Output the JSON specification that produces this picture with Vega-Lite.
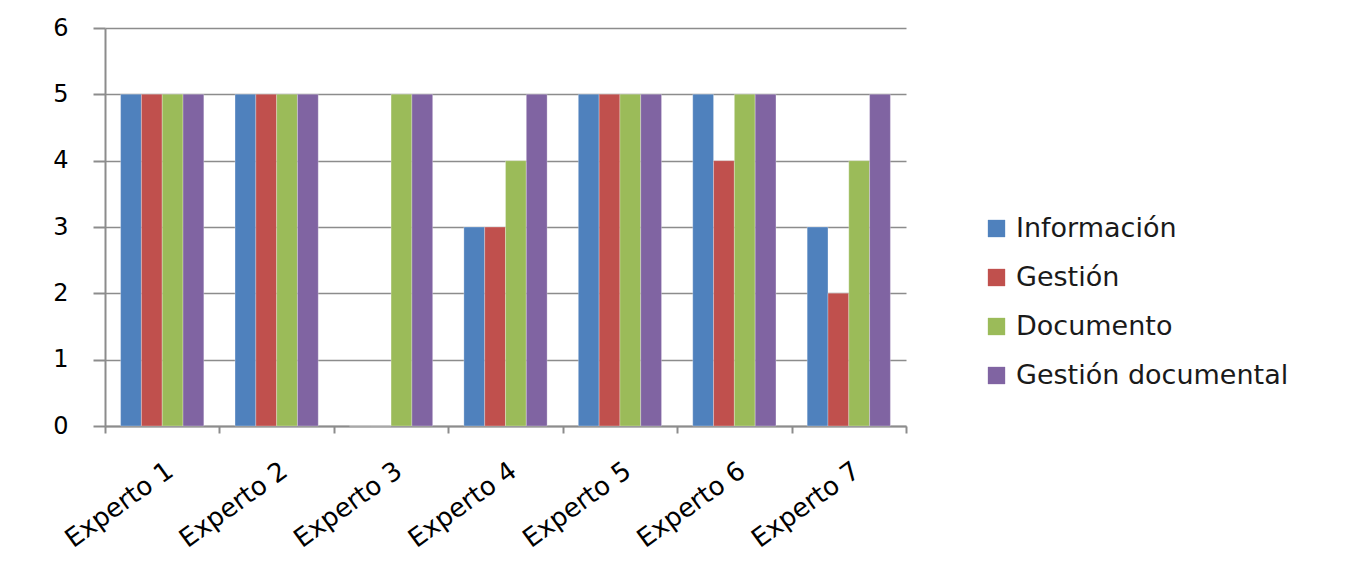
{
  "$schema": "https://vega.github.io/schema/vega-lite/v6.json",
  "autosize": "none",
  "width": 801,
  "height": 398,
  "padding": {"left": 105, "top": 28, "right": 446, "bottom": 156},
  "background": "white",
  "config": {
    "view": {"stroke": null},
    "font": "DejaVu Sans"
  },
  "data": {
    "values": [
      {"experto": "Experto 1", "serie": "Información", "valor": 5},
      {"experto": "Experto 1", "serie": "Gestión", "valor": 5},
      {"experto": "Experto 1", "serie": "Documento", "valor": 5},
      {"experto": "Experto 1", "serie": "Gestión documental", "valor": 5},
      {"experto": "Experto 2", "serie": "Información", "valor": 5},
      {"experto": "Experto 2", "serie": "Gestión", "valor": 5},
      {"experto": "Experto 2", "serie": "Documento", "valor": 5},
      {"experto": "Experto 2", "serie": "Gestión documental", "valor": 5},
      {"experto": "Experto 3", "serie": "Información", "valor": 0},
      {"experto": "Experto 3", "serie": "Gestión", "valor": 0},
      {"experto": "Experto 3", "serie": "Documento", "valor": 5},
      {"experto": "Experto 3", "serie": "Gestión documental", "valor": 5},
      {"experto": "Experto 4", "serie": "Información", "valor": 3},
      {"experto": "Experto 4", "serie": "Gestión", "valor": 3},
      {"experto": "Experto 4", "serie": "Documento", "valor": 4},
      {"experto": "Experto 4", "serie": "Gestión documental", "valor": 5},
      {"experto": "Experto 5", "serie": "Información", "valor": 5},
      {"experto": "Experto 5", "serie": "Gestión", "valor": 5},
      {"experto": "Experto 5", "serie": "Documento", "valor": 5},
      {"experto": "Experto 5", "serie": "Gestión documental", "valor": 5},
      {"experto": "Experto 6", "serie": "Información", "valor": 5},
      {"experto": "Experto 6", "serie": "Gestión", "valor": 4},
      {"experto": "Experto 6", "serie": "Documento", "valor": 5},
      {"experto": "Experto 6", "serie": "Gestión documental", "valor": 5},
      {"experto": "Experto 7", "serie": "Información", "valor": 3},
      {"experto": "Experto 7", "serie": "Gestión", "valor": 2},
      {"experto": "Experto 7", "serie": "Documento", "valor": 4},
      {"experto": "Experto 7", "serie": "Gestión documental", "valor": 5}
    ]
  },
  "mark": {"type": "bar", "stroke": "#ffffff", "strokeOpacity": 0.35, "strokeWidth": 0.8},
  "encoding": {
    "x": {
      "field": "experto",
      "type": "nominal",
      "sort": null,
      "title": null,
      "scale": {"paddingInner": 0, "paddingOuter": 0},
      "axis": {
        "labelAngle": -36,
        "labelFontSize": 26,
        "labelColor": "#000000",
        "labelPadding": 24,
        "tickBand": "extent",
        "tickSize": 7,
        "tickColor": "#8c8c8c",
        "tickWidth": 2,
        "domainColor": "#8c8c8c",
        "domainWidth": 2,
        "grid": false
      }
    },
    "xOffset": {
      "field": "serie",
      "type": "nominal",
      "sort": ["Información", "Gestión", "Documento", "Gestión documental"],
      "scale": {"paddingInner": 0, "paddingOuter": 0.75}
    },
    "y": {
      "field": "valor",
      "type": "quantitative",
      "title": null,
      "scale": {"domain": [0, 6], "nice": false},
      "axis": {
        "values": [0, 1, 2, 3, 4, 5, 6],
        "labelFontSize": 24,
        "labelColor": "#000000",
        "labelPadding": 25,
        "tickSize": 12,
        "tickColor": "#8c8c8c",
        "tickWidth": 2,
        "domainColor": "#8c8c8c",
        "domainWidth": 2,
        "gridColor": "#8c8c8c",
        "gridWidth": 1.5
      }
    },
    "color": {
      "field": "serie",
      "type": "nominal",
      "sort": ["Información", "Gestión", "Documento", "Gestión documental"],
      "scale": {
        "domain": ["Información", "Gestión", "Documento", "Gestión documental"],
        "range": ["#4F81BD", "#C0504D", "#9BBB59", "#8064A2"]
      },
      "legend": {
        "title": null,
        "orient": "none",
        "legendX": 878,
        "legendY": 187,
        "symbolType": "square",
        "symbolSize": 300,
        "symbolStrokeWidth": 0,
        "labelFontSize": 27,
        "labelColor": "#1a1a1a",
        "labelOffset": 6,
        "rowPadding": 21,
        "labelLimit": 400
      }
    }
  }
}
